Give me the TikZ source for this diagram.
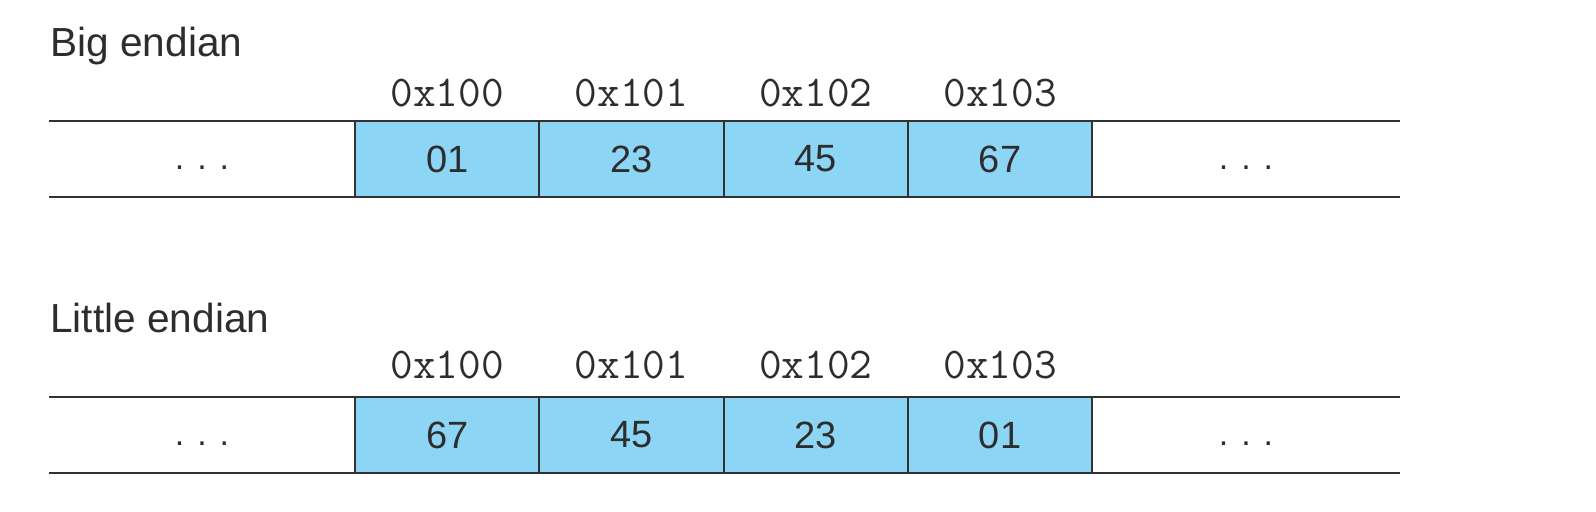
\documentclass[tikz,border=0pt]{standalone}
\usepackage{fontspec}
\setmainfont{Liberation Sans}
\usepackage{tikz}
\usetikzlibrary{positioning,calc}
\definecolor{cellblue}{RGB}{141,213,245}
\definecolor{rulegray}{RGB}{50,50,50}
\definecolor{textgray}{RGB}{45,45,45}

\begin{document}
\begin{tikzpicture}[x=0.5pt,y=-0.5pt,
  cell/.style={draw=rulegray,line width=1pt,fill=cellblue,text=textgray,
    minimum width=92.15pt,minimum height=38pt,inner sep=0pt,
    font=\fontsize{19}{20}\selectfont},
  addr/.style={anchor=base,text=textgray,font=\ttfamily\fontsize{22}{23}\selectfont},
  title/.style={anchor=base west,inner sep=0pt,text=textgray,font=\fontsize{20.3}{22}\selectfont},
  etc/.style={anchor=base,text=textgray,font=\fontsize{17}{18}\selectfont},
  memline/.style={draw=rulegray,line width=1.1pt}]
  \useasboundingbox (0,0) rectangle (1596,512);
  % big endian
  \node[title] (big-title) at (50,57) {Big endian};
  \draw[memline] (49,121) -- (1400,121) (49,197) -- (1400,197);
  \foreach \a [count=\i from 0] in {100,101,102,103}
    \node[addr] (big-a\i) at ({447.2+184.3*\i},107) {0x\a};
  \foreach \v [count=\i from 0] in {01,23,45,67}
    \node[cell] (big-\i) at ({447.2+184.3*\i},159) {\v};
  \node[etc] (big-l) at (202,170) {.\hspace{6.5pt}.\hspace{6.5pt}.};
  \node[etc] (big-r) at (1246,170) {.\hspace{6.5pt}.\hspace{6.5pt}.};
  % little endian
  \node[title] (lit-title) at (50,333) {Little endian};
  \draw[memline] (49,397) -- (1400,397) (49,473) -- (1400,473);
  \foreach \a [count=\i from 0] in {100,101,102,103}
    \node[addr] (lit-a\i) at ({447.2+184.3*\i},379) {0x\a};
  \foreach \v [count=\i from 0] in {67,45,23,01}
    \node[cell] (lit-\i) at ({447.2+184.3*\i},435) {\v};
  \node[etc] (lit-l) at (202,446) {.\hspace{6.5pt}.\hspace{6.5pt}.};
  \node[etc] (lit-r) at (1246,446) {.\hspace{6.5pt}.\hspace{6.5pt}.};
\end{tikzpicture}
\end{document}
